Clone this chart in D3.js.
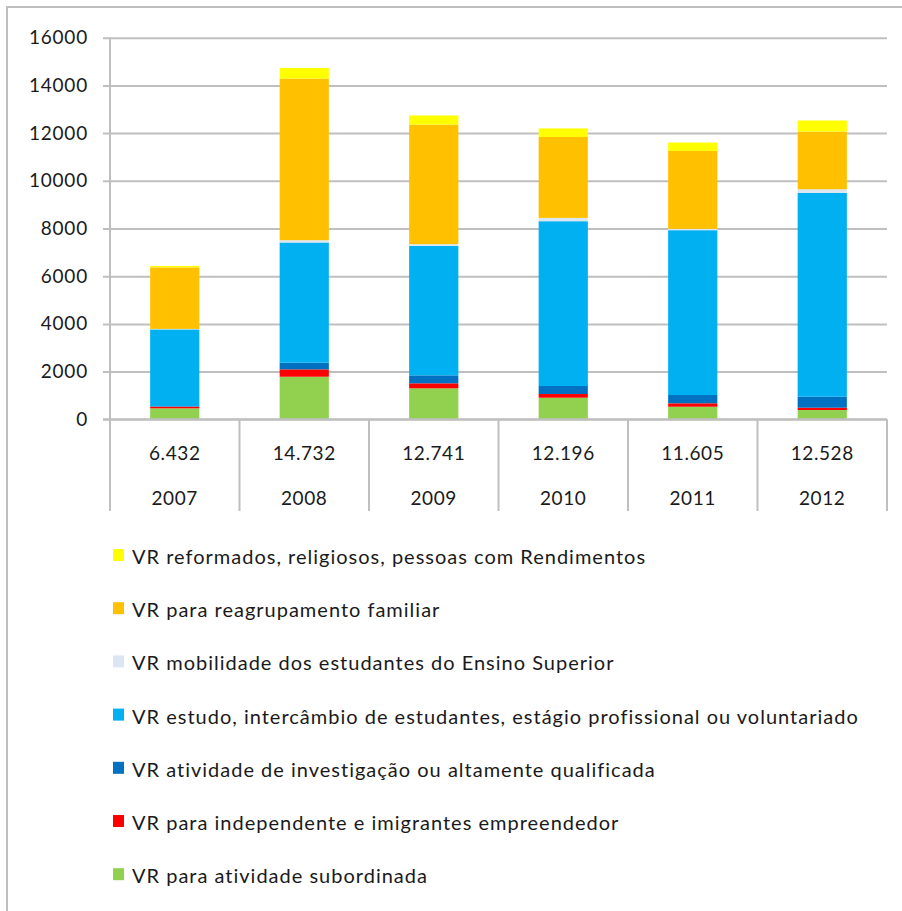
<!DOCTYPE html>
<html>
<head>
<meta charset="utf-8">
<script src="https://cdn.jsdelivr.net/npm/d3@7"></script>
<style>
  html, body { margin: 0; padding: 0; background: #fff; }
  svg text { font-family: 'Lato', 'Liberation Sans', sans-serif; fill: #1a1a1a; }
</style>
</head>
<body>
<svg id="chart" width="902" height="911"></svg>
<script>
// categories and totals shown in the table under the axis
const years = ['2007', '2008', '2009', '2010', '2011', '2012'];
const totals = [6432, 14732, 12741, 12196, 11605, 12528];

// series, bottom of the stack first
const subordinada = [460, 1785, 1298, 905, 528, 390];
const independente = [70, 309, 210, 155, 142, 96];
const investigacao = [20, 278, 335, 335, 348, 461];
const estudo = [3220, 5041, 5429, 6911, 6911, 8544];
const mobilidade = [20, 97, 71, 138, 55, 155];
const reagrupamento = [2580, 6773, 5013, 3393, 3267, 2417];
const reformados = [62, 449, 385, 359, 354, 465];

const seriesNames = [
  'VR para atividade subordinada',
  'VR para independente e imigrantes empreendedor',
  'VR atividade de investigação ou altamente qualificada',
  'VR estudo, intercâmbio de estudantes, estágio profissional ou voluntariado',
  'VR mobilidade dos estudantes do Ensino Superior',
  'VR para reagrupamento familiar',
  'VR reformados, religiosos, pessoas com Rendimentos'
];
const seriesValues = [subordinada, independente, investigacao, estudo, mobilidade, reagrupamento, reformados];
const seriesColors = ['#92d050', '#ff0000', '#0070c0', '#00b0f0', '#dce6f2', '#ffc000', '#ffff00'];

const yTicks = [0, 2000, 4000, 6000, 8000, 10000, 12000, 14000, 16000];

// build rows for d3.stack
const rows = years.map((year, i) => {
  const row = { year: year };
  seriesNames.forEach((name, s) => { row[name] = seriesValues[s][i]; });
  return row;
});

const svg = d3.select('#chart');
const gridColor = '#bfbfbf';

const plotLeft = 110, plotRight = 887, plotTop = 37.7, plotBottom = 419.3;
const tableBottom = 511;

// outer frame (left and top edges only, as in the picture)
svg.append('line').attr('x1', 7).attr('x2', 7).attr('y1', 7).attr('y2', 911)
  .attr('stroke', gridColor).attr('stroke-width', 2);
svg.append('line').attr('x1', 6).attr('x2', 902).attr('y1', 7).attr('y2', 7)
  .attr('stroke', gridColor).attr('stroke-width', 2);

const yScale = d3.scaleLinear().domain([0, 16000]).range([plotBottom, plotTop]);

// one slot per year for the table, narrower bands for the bars
const xSlot = d3.scaleBand().domain(years).range([plotLeft, plotRight]).padding(0);
const xBar = d3.scaleBand().domain(years).range([plotLeft, plotRight]).paddingInner(0.62).paddingOuter(0.31);

// gridlines + y tick labels
const yAxis = d3.axisLeft(yScale).tickValues(yTicks).tickSize(0).tickFormat(d3.format('d')).tickPadding(0);
const yg = svg.append('g')
  .attr('transform', `translate(${plotLeft - 7}, 0)`)
  .call(yAxis);
yg.select('.domain').remove();
yg.selectAll('.tick line')
  .attr('x1', 0).attr('x2', plotRight - plotLeft + 7)
  .attr('stroke', gridColor).attr('stroke-width', 2);
yg.selectAll('.tick text')
  .attr('x', -15)
  .style('font-size', '19px')
  .style('letter-spacing', '0.8px')
  .style('font-family', "'Lato', 'Liberation Sans', sans-serif")
  .attr('fill', '#1a1a1a');

// stacked bars
const stack = d3.stack().keys(seriesNames);
const layers = stack(rows);

svg.append('g')
  .selectAll('g')
  .data(layers)
  .join('g')
  .attr('fill', (d, i) => seriesColors[i])
  .selectAll('rect')
  .data((d) => d)
  .join('rect')
  .attr('x', (d) => xBar(d.data.year))
  .attr('width', xBar.bandwidth())
  .attr('y', (d) => yScale(d[1]))
  .attr('height', (d) => yScale(d[0]) - yScale(d[1]));

// vertical axis line and table separators
svg.append('line').attr('x1', plotLeft).attr('x2', plotLeft).attr('y1', plotTop).attr('y2', tableBottom)
  .attr('stroke', gridColor).attr('stroke-width', 2);
svg.append('g')
  .selectAll('line')
  .data(years)
  .join('line')
  .attr('x1', (d) => xSlot(d) + xSlot.bandwidth())
  .attr('x2', (d) => xSlot(d) + xSlot.bandwidth())
  .attr('y1', plotBottom)
  .attr('y2', tableBottom)
  .attr('stroke', gridColor)
  .attr('stroke-width', 2);

// baseline drawn on top of the bars
svg.append('line').attr('x1', plotLeft - 7).attr('x2', plotRight).attr('y1', plotBottom).attr('y2', plotBottom)
  .attr('stroke', gridColor).attr('stroke-width', 2);

// table: totals row and year row
const ptFormat = d3.formatLocale({ decimal: ',', thousands: '.', grouping: [3], currency: ['', ''] }).format(',d');

svg.append('g')
  .selectAll('text')
  .data(years)
  .join('text')
  .attr('x', (d) => xSlot(d) + xSlot.bandwidth() / 2)
  .attr('y', 453)
  .attr('dy', '0.35em')
  .attr('text-anchor', 'middle')
  .style('font-size', '19px')
  .style('letter-spacing', '0.6px')
  .text((d, i) => ptFormat(totals[i]));

svg.append('g')
  .selectAll('text')
  .data(years)
  .join('text')
  .attr('x', (d) => xSlot(d) + xSlot.bandwidth() / 2)
  .attr('y', 498)
  .attr('dy', '0.35em')
  .attr('text-anchor', 'middle')
  .style('font-size', '19px')
  .style('letter-spacing', '0.6px')
  .text((d) => d);

// legend, top of the stack first
const legendOrder = d3.range(seriesNames.length).reverse();
const legend = svg.append('g')
  .selectAll('g')
  .data(legendOrder)
  .join('g')
  .attr('transform', (d, i) => `translate(113, ${556 + i * 53.2})`);

legend.append('rect')
  .attr('x', 0).attr('y', -7)
  .attr('width', 11).attr('height', 12)
  .attr('fill', (d) => seriesColors[d]);

legend.append('text')
  .attr('x', 19)
  .attr('y', 1)
  .attr('dy', '0.35em')
  .style('font-size', '20px')
  .style('letter-spacing', '1px')
  .text((d) => seriesNames[d]);
</script>
</body>
</html>
